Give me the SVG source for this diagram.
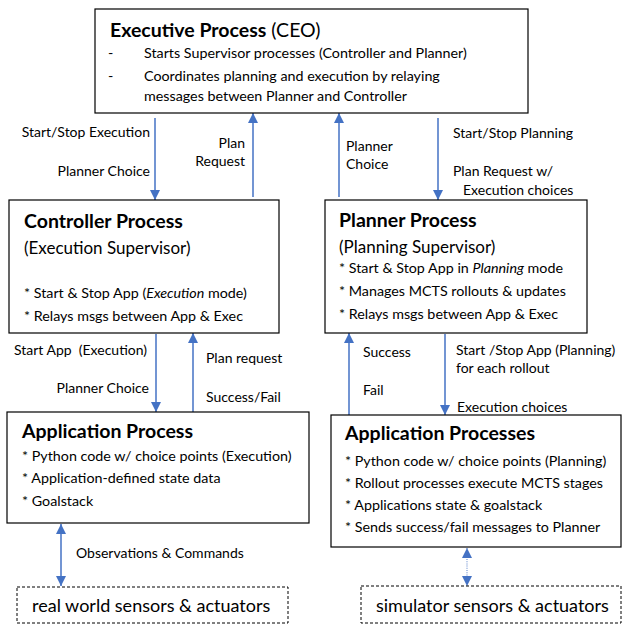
<svg xmlns="http://www.w3.org/2000/svg" width="622" height="625" viewBox="0 0 622 625">
<style>
  .box { fill: #ffffff; stroke: #000000; stroke-width: 1.2; }
  .dbox { fill: #ffffff; stroke: #000000; stroke-width: 1; stroke-dasharray: 3 2; }
  .t { font-family: Lato, "Open Sans", "Liberation Sans", sans-serif; fill: #000000; }
  .title { font-size: 19.5px; font-weight: bold; }
  .sub { font-size: 17px; }
  .body { font-size: 14.3px; }
  .lbl { font-size: 14px; }
  .big { font-size: 18px; }
  .end { text-anchor: end; }
  .con { stroke: #4472C4; stroke-width: 1.5; fill: none; }
  .dot { stroke: #8FAADC; stroke-width: 1.5; stroke-dasharray: 1 1.2; fill: none; }
</style>
<defs>
  <marker id="ah" viewBox="0 0 10 10" refX="10" refY="5" markerWidth="10" markerHeight="10" markerUnits="userSpaceOnUse" orient="auto-start-reverse">
    <path d="M0,0 L10,5 L0,10 Z" fill="#4472C4"/>
  </marker>
</defs>

<g id="connectors">
  <line class="con" x1="155" y1="118" x2="155" y2="200" marker-end="url(#ah)"/>
  <line class="con" x1="253" y1="197" x2="253" y2="113" marker-end="url(#ah)"/>
  <line class="con" x1="339" y1="197" x2="339" y2="113" marker-end="url(#ah)"/>
  <line class="con" x1="438" y1="118" x2="438" y2="200" marker-end="url(#ah)"/>
  <line class="con" x1="156" y1="334" x2="156" y2="412" marker-end="url(#ah)"/>
  <line class="con" x1="193" y1="412" x2="193" y2="333" marker-end="url(#ah)"/>
  <line class="con" x1="349" y1="415" x2="349" y2="333" marker-end="url(#ah)"/>
  <line class="con" x1="445" y1="334" x2="445" y2="415" marker-end="url(#ah)"/>
  <line class="con" x1="61" y1="524" x2="61" y2="586" marker-start="url(#ah)" marker-end="url(#ah)"/>
  <line class="dot" x1="467" y1="548" x2="467" y2="586" marker-start="url(#ah)" marker-end="url(#ah)"/>

  <text class="t lbl end" x="150" y="137">Start/Stop Execution</text>
  <text class="t lbl end" x="150" y="176">Planner Choice</text>
  <text class="t lbl end" x="245" y="148">Plan</text>
  <text class="t lbl end" x="245" y="166">Request</text>
  <text class="t lbl" x="346" y="151">Planner</text>
  <text class="t lbl" x="346" y="169">Choice</text>
  <text class="t lbl" x="453" y="138">Start/Stop Planning</text>
  <text class="t lbl" x="453" y="176">Plan Request w/</text>
  <text class="t lbl" x="463" y="195">Execution choices</text>

  <text class="t lbl" x="14" y="355" xml:space="preserve">Start App  (Execution)</text>
  <text class="t lbl end" x="149" y="393">Planner Choice</text>
  <text class="t lbl" x="206" y="363">Plan request</text>
  <text class="t lbl" x="206" y="402">Success/Fail</text>
  <text class="t lbl" x="363" y="357">Success</text>
  <text class="t lbl" x="363" y="395">Fail</text>
  <text class="t lbl" x="456" y="355">Start /Stop App (Planning)</text>
  <text class="t lbl" x="456" y="373">for each rollout</text>
  <text class="t lbl" x="457" y="412">Execution choices</text>
  <text class="t lbl" x="76" y="558">Observations &amp; Commands</text>
</g>

<g id="executive">
  <rect class="box" x="95" y="9" width="433" height="104"/>
  <text class="t title" x="110" y="37">Executive Process<tspan font-weight="normal"> (CEO)</tspan></text>
  <text class="t body" x="108" y="58">-</text>
  <text class="t body" x="144" y="58">Starts Supervisor processes (Controller and Planner)</text>
  <text class="t body" x="108" y="81">-</text>
  <text class="t body" x="144" y="81">Coordinates planning and execution by relaying</text>
  <text class="t body" x="144" y="101">messages between Planner and Controller</text>
</g>

<g id="controller">
  <rect class="box" x="9" y="200" width="270" height="133"/>
  <text class="t title" x="24" y="228">Controller Process</text>
  <text class="t sub" x="24" y="254">(Execution Supervisor)</text>
  <text class="t body" x="24" y="298">* Start &amp; Stop App (<tspan font-style="italic">Execution</tspan> mode)</text>
  <text class="t body" x="24" y="321">* Relays msgs between App &amp; Exec</text>
</g>

<g id="planner">
  <rect class="box" x="325" y="200" width="262" height="133"/>
  <text class="t title" x="339" y="227">Planner Process</text>
  <text class="t sub" x="339" y="253">(Planning Supervisor)</text>
  <text class="t body" x="339" y="273">* Start &amp; Stop App in <tspan font-style="italic">Planning</tspan> mode</text>
  <text class="t body" x="339" y="296">* Manages MCTS rollouts &amp; updates</text>
  <text class="t body" x="339" y="319">* Relays msgs between App &amp; Exec</text>
</g>

<g id="application">
  <rect class="box" x="7" y="412" width="302" height="111"/>
  <text class="t title" x="22" y="438">Application Process</text>
  <text class="t body" x="22" y="461">* Python code w/ choice points (Execution)</text>
  <text class="t body" x="22" y="483">* Application-defined state data</text>
  <text class="t body" x="22" y="506">* Goalstack</text>
</g>

<g id="applications">
  <rect class="box" x="331" y="415" width="290" height="132"/>
  <text class="t title" x="345" y="440">Application Processes</text>
  <text class="t body" x="345" y="466">* Python code w/ choice points (Planning)</text>
  <text class="t body" x="345" y="488">* Rollout processes execute MCTS stages</text>
  <text class="t body" x="345" y="510">* Applications state &amp; goalstack</text>
  <text class="t body" x="345" y="532">* Sends success/fail messages to Planner</text>
</g>

<g id="real-world">
  <rect class="dbox" x="17" y="587" width="271" height="36"/>
  <text class="t big" x="32" y="612">real world sensors &amp; actuators</text>
</g>

<g id="simulator">
  <rect class="dbox" x="361" y="586" width="260" height="37"/>
  <text class="t big" x="376" y="612">simulator sensors &amp; actuators</text>
</g>
</svg>
